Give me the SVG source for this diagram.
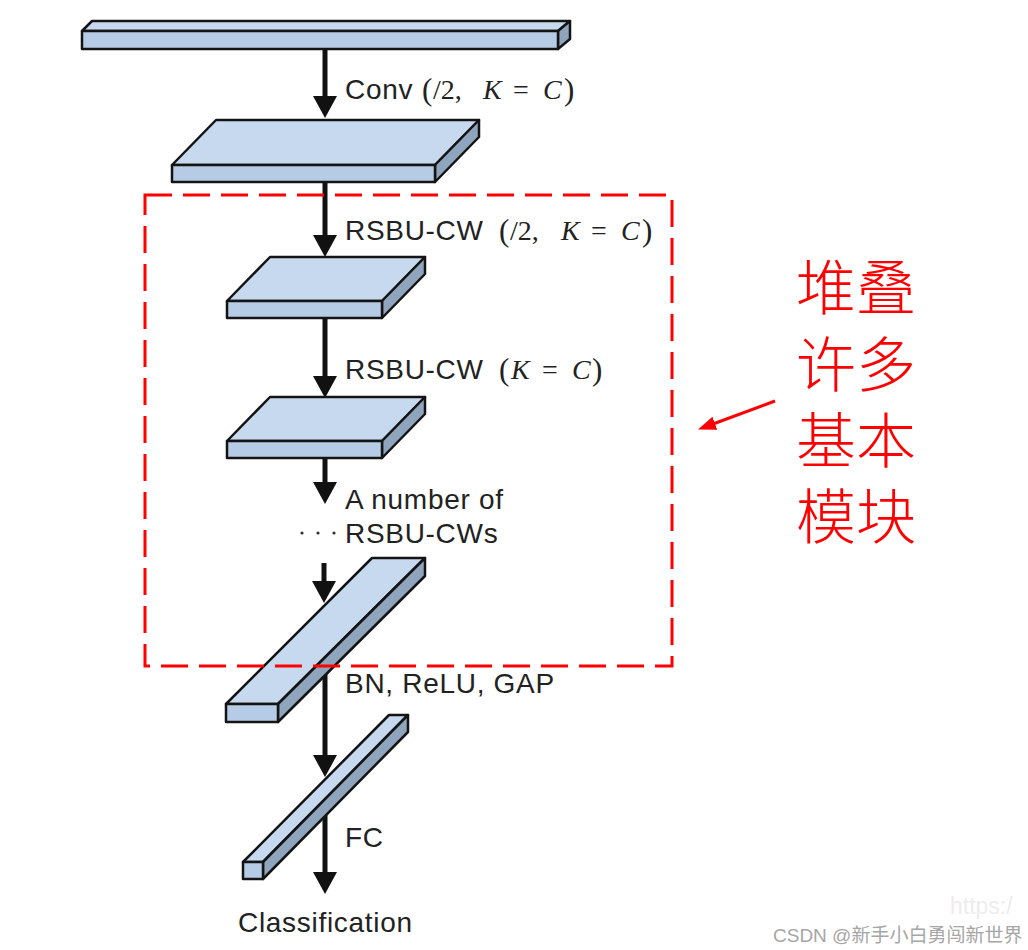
<svg xmlns="http://www.w3.org/2000/svg" width="1028" height="950" viewBox="0 0 1028 950">
<style>
.top{fill:#c6d9ee;stroke:#141414;stroke-width:2.5;stroke-linejoin:round}
.front{fill:#b6cbe5;stroke:#141414;stroke-width:2.5;stroke-linejoin:round}
.side{fill:#8fa5be;stroke:#141414;stroke-width:2.5;stroke-linejoin:round}
.conn{stroke:#111;stroke-width:5;fill:none;marker-end:url(#ah)}
.lbl{font-family:"Liberation Sans",Arial,sans-serif;font-size:28px;letter-spacing:0.7px;fill:#222}
.math{font-family:"Liberation Serif","DejaVu Serif",serif;font-size:28px;letter-spacing:0;fill:#222}
.par{font-family:"Liberation Serif","DejaVu Serif",serif;font-size:31px;letter-spacing:0;fill:#222}
.it{font-style:italic}
.cn{font-family:"Noto Sans CJK SC",sans-serif;font-size:60px;font-weight:300;fill:#ff0000}
.wm{font-family:"Liberation Sans","Noto Sans CJK SC",sans-serif;font-size:19px;fill:#a6a6a6}
</style>
<defs>
<marker id="ah" viewBox="0 0 22 24" refX="2" refY="12" markerWidth="22" markerHeight="24" markerUnits="userSpaceOnUse" orient="auto">
<path d="M0,0 L22,12 L0,24 z" fill="#111"/>
</marker>
<marker id="rh" viewBox="0 0 18 14" refX="2" refY="7" markerWidth="18" markerHeight="14" markerUnits="userSpaceOnUse" orient="auto">
<path d="M0,0 L18,7 L0,14 z" fill="#ff0000"/>
</marker>
</defs>
<rect width="1028" height="950" fill="#ffffff"/>

<g id="connectors">
<path class="conn" d="M325,45 V98"/>
<path class="conn" d="M325,178 V237"/>
<path class="conn" d="M325,314 V378"/>
<path class="conn" d="M325,454 V484"/>
<path class="conn" d="M324,563 V583"/>
<path class="conn" d="M325,660 V757"/>
<path class="conn" d="M325,800 V874"/>
</g>

<g id="input">
<polygon class="top" points="82,31 92,21 570,21 558,31"/>
<polygon class="side" points="558,31 570,21 570,39 558,49"/>
<rect class="front" x="82" y="31" width="476" height="18"/>
</g>

<g id="conv-out">
<polygon class="top" points="172,165 216,120 479,120 435,165"/>
<polygon class="side" points="435,165 479,120 479,137 435,182"/>
<rect class="front" x="172" y="165" width="263" height="17"/>
</g>

<g id="rsbu1">
<polygon class="top" points="227,301 270,257 425,257 382,301"/>
<polygon class="side" points="382,301 425,257 425,274 382,318"/>
<rect class="front" x="227" y="301" width="155" height="17"/>
</g>

<g id="rsbu2">
<polygon class="top" points="227,441 270,397 425,397 382,441"/>
<polygon class="side" points="382,441 425,397 425,414 382,458"/>
<rect class="front" x="227" y="441" width="155" height="17"/>
</g>

<g id="rsbu-last">
<polygon class="top" points="226,704 372,558 425,558 278,704"/>
<polygon class="side" points="278,704 425,558 425,576 278,722"/>
<rect class="front" x="226" y="704" width="52" height="18"/>
</g>

<g id="fc">
<polygon class="top" points="243,862 389,715 408,715 263,862"/>
<polygon class="side" points="263,862 408,715 408,732 263,879"/>
<rect class="front" x="243" y="862" width="20" height="17"/>
</g>

<g id="labels">
<text class="lbl" x="345" y="99">Conv<tspan class="par" x="422" y="100">(</tspan><tspan class="math" x="433" y="99">/2,</tspan><tspan class="math it" x="483" y="99">K</tspan><tspan class="math" x="513" y="99">=</tspan><tspan class="math it" x="543" y="99">C</tspan><tspan class="par" x="564" y="100">)</tspan></text>

<text class="lbl" x="345" y="240">RSBU-CW<tspan class="par" x="499" y="241">(</tspan><tspan class="math" x="510" y="240">/2,</tspan><tspan class="math it" x="561" y="240">K</tspan><tspan class="math" x="591" y="240">=</tspan><tspan class="math it" x="621" y="240">C</tspan><tspan class="par" x="642" y="241">)</tspan></text>

<text class="lbl" x="345" y="379">RSBU-CW<tspan class="par" x="499" y="380">(</tspan><tspan class="math it" x="511" y="379">K</tspan><tspan class="math" x="542" y="379">=</tspan><tspan class="math it" x="572" y="379">C</tspan><tspan class="par" x="592" y="380">)</tspan></text>

<text class="lbl" x="345" y="509">A number of</text>
<text class="lbl" x="345" y="543">RSBU-CWs</text>
<circle cx="302" cy="533" r="1.6" fill="#333"/>
<circle cx="318" cy="533" r="1.6" fill="#333"/>
<circle cx="334" cy="533" r="1.6" fill="#333"/>

<text class="lbl" x="345" y="693">BN, ReLU, GAP</text>
<text class="lbl" x="345" y="847">FC</text>
<text class="lbl" x="238" y="932">Classification</text>
</g>

<g id="stack-box">
<rect x="145" y="195" width="527" height="471" fill="none" stroke="#ff0000" stroke-width="3" stroke-dasharray="27 11"/>
</g>

<g id="annotation">
<path d="M775,401 L713,424" stroke="#ff0000" stroke-width="3" fill="none" marker-end="url(#rh)"/>
<text class="cn" x="796" y="310">堆叠<tspan x="796" y="387">许多</tspan><tspan x="796" y="463">基本</tspan><tspan x="796" y="539">模块</tspan></text>
</g>

<g id="watermark">
<text x="950" y="914" font-family="Liberation Sans,sans-serif" font-size="23" fill="#ededed">https:/</text>
<text class="wm" x="773" y="942">CSDN @新手小白勇闯新世界</text>
</g>
</svg>
